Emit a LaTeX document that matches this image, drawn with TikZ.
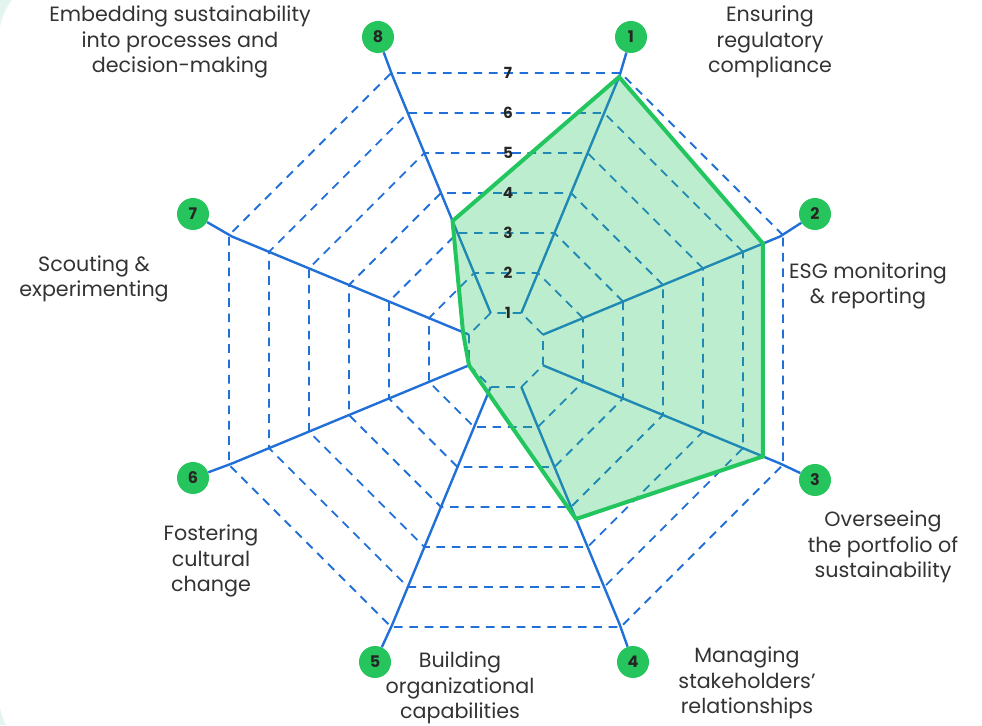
\documentclass[tikz,border=0pt]{standalone}
\usepackage{fontspec}
\setmainfont{Poppins}
\usepackage{xcolor}
\usetikzlibrary{calc, positioning}
\definecolor{axisblue}{HTML}{2070D8}
\definecolor{areagreen}{HTML}{22C55E}
\definecolor{numgreen}{HTML}{26C45C}
\definecolor{textgray}{HTML}{333333}
\definecolor{mint}{HTML}{E4F5F0}

\begin{document}
\begin{tikzpicture}[x=0.75pt, y=0.75pt, axis/.style={draw=axisblue, line width=1.8pt}, grid/.style={draw=axisblue, line width=1.4pt, dash pattern=on 6.5pt off 5pt}]
% Define styles for number circles, scale numbers and captions
\tikzstyle{num} = [circle, fill=numgreen, minimum size=24pt, inner sep=0pt, text=black!85, font=\fontsize{12}{12}\selectfont\bfseries]
\tikzstyle{scalenum} = [inner sep=1pt, text=black!85, font=\fontsize{11.5}{11.5}\selectfont\bfseries]
\tikzstyle{areatext} = [align=center, text=textgray, font=\fontsize{15.5}{19.2}\selectfont]
\tikzstyle{area} = [draw=areagreen, fill=areagreen, fill opacity=0.3, line width=3pt]

\useasboundingbox (0,0) rectangle (982,725);
\fill[mint] (0,725) -- (12,725) .. controls (5,716) and (1,706) .. (0,697) -- cycle;
\fill[mint] (0,0) -- (6,0) .. controls (3,6) and (1,12) .. (0,17) -- cycle;

\coordinate (c) at (506,375);

% Nodes placement
\node [num] (n1) at (631,688) {1};
\node [num] (n2) at (815,511) {2};
\node [num] (n3) at (815,245) {3};
\node [num] (n4) at (633,63) {4};
\node [num] (n5) at (375,63) {5};
\node [num] (n6) at (193,247) {6};
\node [num] (n7) at (193,511) {7};
\node [num] (n8) at (378,688) {8};

\node [areatext] (t1) at (770,683) {Ensuring\\regulatory\\compliance};
\node [areatext] (t2) at (868,439) {ESG monitoring\\\& reporting};
\node [areatext] (t3) at (883,178) {Overseeing\\the portfolio of\\sustainability};
\node [areatext] (t4) at (747,42) {Managing\\stakeholders’\\relationships};
\node [areatext] (t5) at (460,37) {Building\\organizational\\capabilities};
\node [areatext] (t6) at (211,164) {Fostering\\cultural\\change};
\node [areatext] (t7) at (94,446) {Scouting \&\\experimenting};
\node [areatext] (t8) at (180,683) {Embedding sustainability\\into processes and\\decision-making};

% Octagon grid
\foreach \k in {1,...,7} {
  \pgfmathsetmacro\r{(40*\k-3)*1.08239}
  \draw[grid, shift={(c)}] (22.5:\r) -- (67.5:\r) -- (112.5:\r) -- (157.5:\r) -- (202.5:\r) -- (247.5:\r) -- (292.5:\r) -- (337.5:\r) -- cycle;
}

% Draw axes
\foreach \i in {1,...,8} {
  \coordinate (i\i) at ($(c)+({112.5-45*\i}:40.05)$);
  \coordinate (o\i) at ($(c)+({112.5-45*\i}:296.6)$);
  \draw[axis] (i\i) -- (o\i) -- (n\i);
}

% Data polygon
\foreach \v [count=\i] in {6.9,6.5,6.5,4.3,1.15,1.0,1.15,3.3} {
  \coordinate (d\i) at ($(c)+({112.5-45*\i}:{(40*\v-3)*1.08239})$);
}
\draw[area] (d1) -- (d2) -- (d3) -- (d4) -- (d5) -- (d6) -- (d7) -- (d8) -- cycle;

% Scale numbers
\foreach \k in {1,...,7} {
  \node [scalenum] (s\k) at ($(c)+(2,{40*\k-3})$) {\k};
}
\end{tikzpicture}
\end{document}
